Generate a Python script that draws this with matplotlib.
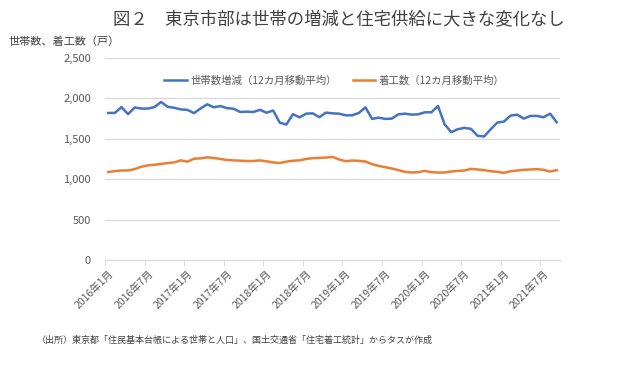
import matplotlib.pyplot as plt
import numpy as np

plt.rcParams['font.family'] = ['Noto Sans CJK JP', 'DejaVu Sans']

# 2016年1月 - 2021年9月, monthly
start_year, start_month = 2016, 1
households = [1820, 1820, 1893, 1805, 1888, 1874, 1874, 1893, 1956, 1896,
              1884, 1864, 1858, 1818, 1876, 1927, 1890, 1905, 1880, 1872,
              1832, 1836, 1832, 1858, 1823, 1850, 1700, 1676, 1805, 1765,
              1811, 1815, 1767, 1824, 1815, 1811, 1791, 1791, 1820, 1889,
              1746, 1762, 1746, 1750, 1803, 1811, 1799, 1803, 1828, 1828,
              1906, 1680, 1582, 1619, 1635, 1623, 1537, 1529, 1619, 1701,
              1713, 1787, 1799, 1750, 1783, 1783, 1767, 1811, 1705]
starts = [1088, 1100, 1108, 1108, 1125, 1154, 1171, 1179, 1188, 1200,
          1208, 1233, 1217, 1254, 1258, 1271, 1263, 1250, 1238, 1233,
          1229, 1225, 1225, 1233, 1221, 1208, 1200, 1217, 1229, 1233,
          1251, 1260, 1264, 1268, 1277, 1244, 1223, 1231, 1227, 1219,
          1186, 1165, 1149, 1132, 1112, 1091, 1083, 1087, 1103, 1087,
          1083, 1083, 1095, 1103, 1107, 1128, 1120, 1112, 1099, 1091,
          1078, 1099, 1107, 1116, 1120, 1124, 1116, 1095, 1112]
series_names = ['世帯数増減（12カ月移動平均）', '着工数（12カ月移動平均）']
y_ticks = [0, 500, 1000, 1500, 2000, 2500]

n = len(households)
labels = []
for i in range(n):
    y = start_year + (start_month - 1 + i) // 12
    m = (start_month - 1 + i) % 12 + 1
    labels.append(f'{y}年{m}月')

x = np.arange(n)
grey = '#595959'

fig = plt.figure(figsize=(6.2, 3.72), dpi=100)
ax = fig.add_axes([105 / 620, 1 - 260 / 372, 455 / 620, 202 / 372])

ax.plot(x, households, color='#4472C4', lw=1.8, label=series_names[0])
ax.plot(x, starts, color='#ED7D31', lw=1.8, label=series_names[1])

ax.set_xlim(-0.5, n - 0.5)
ax.set_ylim(0, 2500)
ax.set_yticks(y_ticks)
ax.set_yticklabels([f'{v:,}' for v in y_ticks], color=grey, fontsize=8)
ax.yaxis.grid(True, color='#D9D9D9', lw=0.9)
ax.set_axisbelow(True)
ax.tick_params(axis='y', length=0, pad=10)

# labels every 6 months at category centres, tick marks at boundaries
lab_pos = x[::6]
ax.set_xticks(lab_pos)
ax.set_xticklabels([labels[i] for i in lab_pos], rotation=45, ha='right',
                   rotation_mode='anchor', color=grey, fontsize=7.5)
ax.tick_params(axis='x', length=0, pad=6)
ax.set_xticks(np.arange(-0.5, n, 6), minor=True)
ax.tick_params(axis='x', which='minor', length=4, color='#D9D9D9')

for s in ['top', 'right', 'left']:
    ax.spines[s].set_visible(False)
ax.spines['bottom'].set_color('#D9D9D9')

ax.legend(loc='upper left', bbox_to_anchor=(155 / 620, 1 - 66 / 372),
          bbox_transform=fig.transFigure, ncol=2, frameon=False,
          fontsize=7.5, handlelength=2.2, handletextpad=0.3,
          columnspacing=1.5, labelcolor=grey)

fig.text(339 / 620, 1 - 20 / 372, '図２　東京市部は世帯の増減と住宅供給に大きな変化なし',
         ha='center', va='center', fontsize=12.5, color='#404040')
fig.text(8 / 620, 1 - 42 / 372, '世帯数、着工数（戸）', ha='left', va='center',
         fontsize=8, color='#404040')
fig.text(37 / 620, 1 - 340 / 372,
         '（出所）東京都「住民基本台帳による世帯と人口」、国土交通省「住宅着工統計」からタスが作成',
         ha='left', va='center', fontsize=6.5, color='#404040')

fig.savefig('out.png', dpi=100)
